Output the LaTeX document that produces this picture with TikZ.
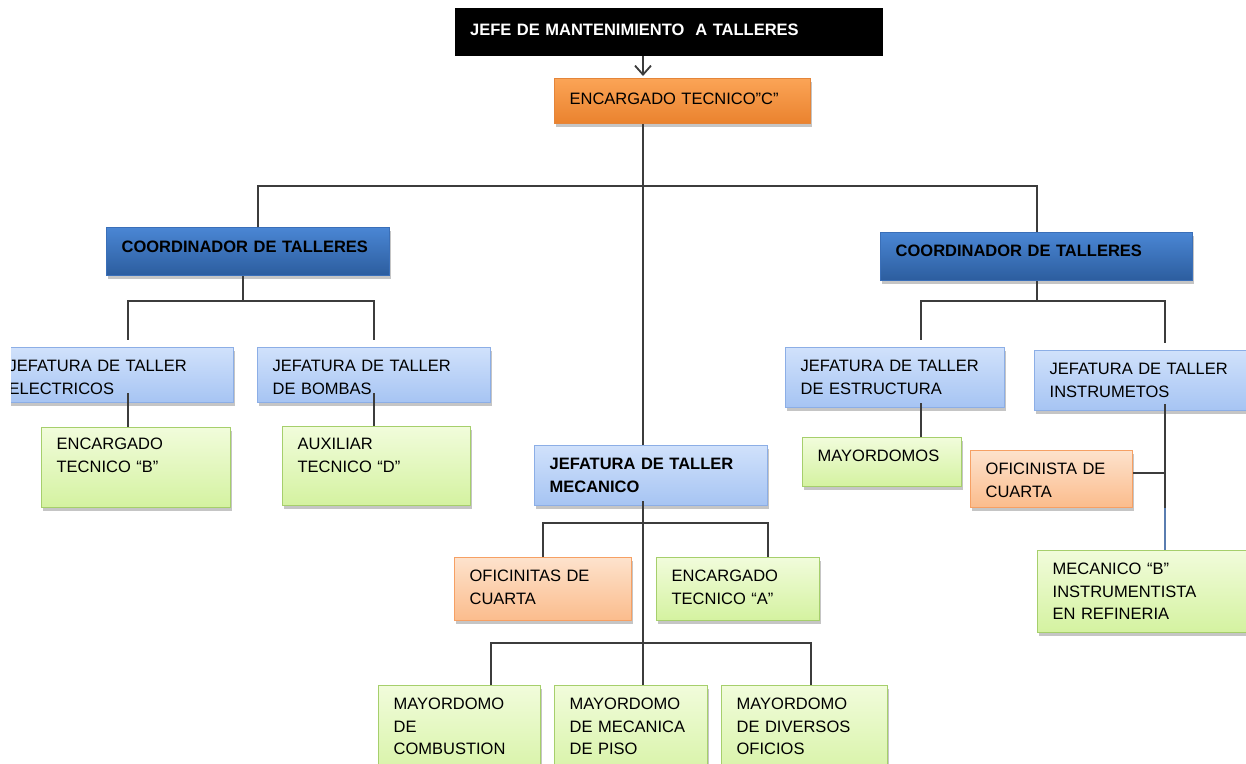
\documentclass[tikz,border=0pt]{standalone}
\usepackage{fontspec}
\setmainfont{Liberation Sans}
\usepackage{xcolor}
\usetikzlibrary{arrows.meta,shadows}

\definecolor{dblueT}{HTML}{4A86D4}
\definecolor{dblueB}{HTML}{2C5D9E}
\definecolor{dblueD}{HTML}{3A6FB8}
\definecolor{lblueT}{HTML}{D0E1FB}
\definecolor{lblueB}{HTML}{A6C4F3}
\definecolor{lblueD}{HTML}{8CAEE6}
\definecolor{lgrnT}{HTML}{F1FCDB}
\definecolor{lgrnB}{HTML}{D4F2A0}
\definecolor{lgrnD}{HTML}{A6CF6C}
\definecolor{orngT}{HTML}{FBA456}
\definecolor{orngB}{HTML}{EA822E}
\definecolor{orngD}{HTML}{E4853A}
\definecolor{lorngT}{HTML}{FDE2CC}
\definecolor{lorngB}{HTML}{FBBC8C}
\definecolor{lorngD}{HTML}{F6A064}
\definecolor{lineg}{HTML}{3C3C3C}
\definecolor{lineb}{HTML}{5A7DB0}

\newcommand{\fs}{\fontsize{16.5}{22.5}\selectfont}

\begin{document}
\begin{tikzpicture}[x=1pt, y=-1pt,
    box/.style={rectangle, draw, line width=1.3pt, align=left, inner xsep=15pt, inner ysep=0pt,
      anchor=north west, font=\fs, drop shadow={shadow xshift=1.5pt, shadow yshift=-3.5pt, fill=black!45}},
    sz/.style n args={3}{text width=#1, text height=#2, text depth=#3},
    head/.style={rectangle, fill=black, text=white, align=left, inner xsep=15pt, inner ysep=0pt,
      anchor=north west, font=\fs\bfseries},
    orng/.style={box, draw=orngD, top color=orngT, bottom color=orngB},
    dblue/.style={box, draw=dblueD, top color=dblueT, bottom color=dblueB, font=\fs\bfseries},
    lblue/.style={box, draw=lblueD, top color=lblueT, bottom color=lblueB},
    lgreen/.style={box, draw=lgrnD, top color=lgrnT, bottom color=lgrnB},
    lorng/.style={box, draw=lorngD, top color=lorngT, bottom color=lorngB},
    conn/.style={draw=lineg, line width=1.8pt},
    tip/.style={conn, -{Straight Barb[length=9pt, width=16pt, line width=1.8pt]}, shorten >=2pt}]

    \useasboundingbox (0,0) rectangle (1246,763);

    % top
    \node[head, sz={398pt}{27pt}{21pt}] (jefe) at (455,8) {JEFE DE MANTENIMIENTO~ A TALLERES};
    \node[orng, sz={226pt}{26pt}{19pt}] (encC) at (554,78) {ENCARGADO TECNICO”C”};
    \coordinate (trunk) at (643,0);

    % coordinadores
    \node[dblue, sz={253pt}{25pt}{23pt}] (coordL) at (106,227) {COORDINADOR DE TALLERES};
    \node[dblue, sz={282pt}{24pt}{24pt}] (coordR) at (880,232) {COORDINADOR DE TALLERES};

    % rama izquierda
    \begin{scope}
      \clip (11,330) rectangle (245,420);
      \node[lblue, sz={210pt}{24pt}{31pt}] (jelec) at (-7,347) {JEFATURA DE TALLER\\ELECTRICOS};
    \end{scope}
    \node[lblue, sz={203pt}{24pt}{31pt}] (jbomb) at (257,347) {JEFATURA DE TALLER\\DE BOMBAS};
    \node[lgreen, sz={159pt}{22pt}{58pt}] (encB) at (41,427) {ENCARGADO\\TECNICO “B”};
    \node[lgreen, sz={158pt}{23pt}{56pt}] (auxD) at (282,426) {AUXILIAR\\TECNICO “D”};

    % rama central
    \node[lblue, sz={203pt}{24pt}{36pt}, font=\fs\bfseries] (jmec) at (534,445) {JEFATURA DE TALLER\\MECANICO};
    \node[lorng, sz={147pt}{24pt}{39pt}] (ofiM) at (454,557) {OFICINITAS DE\\CUARTA};
    \node[lgreen, sz={133pt}{24pt}{39pt}] (encA) at (656,557) {ENCARGADO\\TECNICO “A”};
    \node[lgreen, sz={132pt}{24pt}{76pt}] (mayComb) at (378,685) {MAYORDOMO\\DE\\COMBUSTION};
    \node[lgreen, sz={123pt}{24pt}{76pt}] (mayPiso) at (554,685) {MAYORDOMO\\DE MECANICA\\DE PISO};
    \node[lgreen, sz={136pt}{24pt}{76pt}] (mayDiv) at (721,685) {MAYORDOMO\\DE DIVERSOS\\OFICIOS};

    % rama derecha
    \node[lblue, sz={189pt}{24pt}{36pt}] (jestr) at (785,347) {JEFATURA DE TALLER\\DE ESTRUCTURA};
    \node[lblue, sz={230pt}{24pt}{36pt}] (jinstr) at (1034,350) {JEFATURA DE TALLER\\INSTRUMETOS};
    \node[lgreen, sz={129pt}{24pt}{25pt}] (mayos) at (802,437) {MAYORDOMOS};
    \node[lorng, sz={132pt}{24pt}{33pt}] (ofiI) at (970,450) {OFICINISTA DE\\CUARTA};
    \node[lgreen, sz={224pt}{24pt}{58pt}] (mecB) at (1037,550) {MECANICO “B”\\INSTRUMENTISTA\\EN REFINERIA};

    % conectores
    \draw[tip] (jefe.south -| trunk) -- (encC.north -| trunk);
    \draw[conn] (encC.south -| trunk) -- (jmec.north -| trunk);
    \draw[conn] ([xshift=10pt]coordL.north) -- ++(0,-41) -| (coordR.north);

    \draw[conn] ([xshift=-5pt]coordL.south) -- ++(0,25) -| ([xshift=14pt,yshift=7pt]jelec.north);
    \draw[conn] ([xshift=-5pt]coordL.south) ++(0,25) -| ([yshift=7pt]jbomb.north);
    \draw[conn] ([xshift=14pt,yshift=10pt]jelec.south) -- ([xshift=14pt]jelec.south |- encB.north);
    \draw[conn] ([yshift=10pt]jbomb.south) -- (jbomb.south |- auxD.north);

    \draw[conn] (coordR.south) -- ++(0,20) -| ([xshift=25.5pt,yshift=7pt]jestr.north);
    \draw[conn] (coordR.south) ++(0,20) -| ([yshift=7pt]jinstr.north);
    \draw[conn] ([xshift=25.5pt,yshift=5pt]jestr.south) -- ([xshift=25.5pt]jestr.south |- mayos.north);
    \draw[conn] ([yshift=7pt]jinstr.south) -- (ofiI.south -| jinstr.south);
    \draw[conn, draw=lineb] (ofiI.south -| jinstr.south) -- (jinstr.south |- mecB.north);
    \draw[conn] ([yshift=6pt]ofiI.east) -- ([yshift=6pt]ofiI.east -| jinstr.south);

    \draw[conn] ([yshift=5pt]jmec.south -| trunk) -- (mayPiso.north -| trunk);
    \draw[conn] (ofiM.north) -- ++(0,-34) -| ([xshift=29.5pt]encA.north);
    \draw[conn] ([xshift=31pt]mayComb.north) -- ++(0,-42) -| ([xshift=6pt]mayDiv.north);
\end{tikzpicture}
\end{document}
